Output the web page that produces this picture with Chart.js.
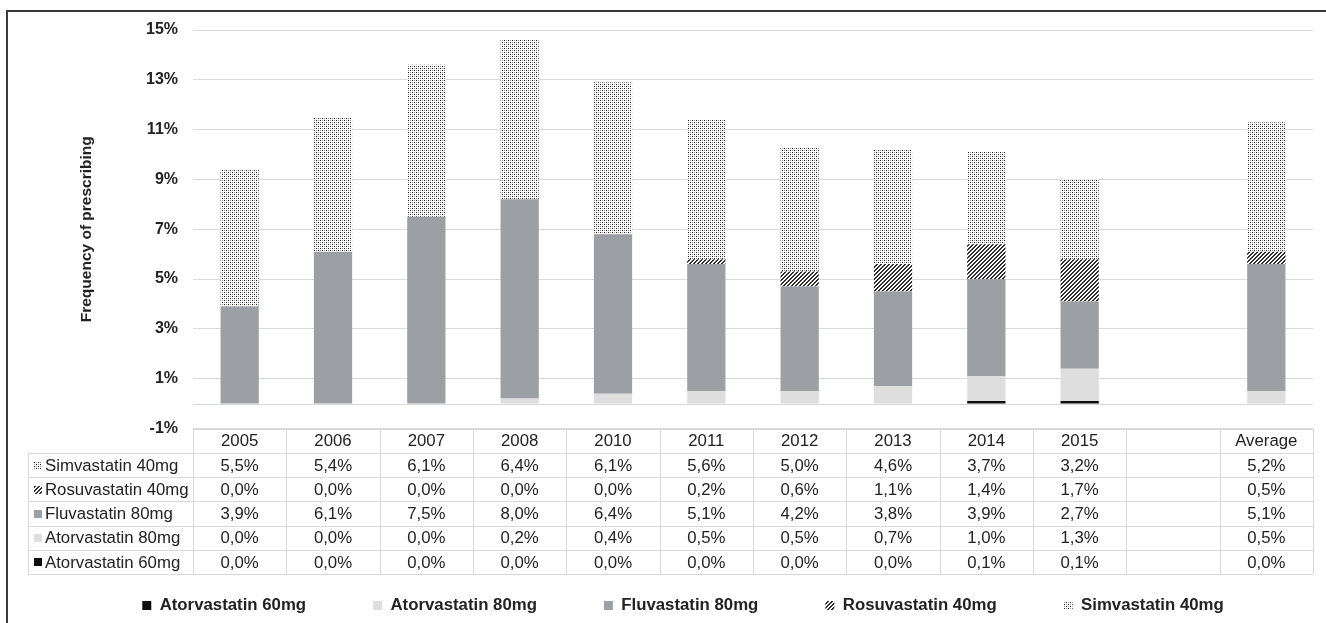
<!DOCTYPE html>
<html>
<head>
<meta charset="utf-8">
<script src="https://cdn.jsdelivr.net/npm/chart.js@4.4.1/dist/chart.umd.min.js"></script>
<style>
  html, body { margin: 0; padding: 0; background: #fff; }
  #wrap { position: relative; width: 1326px; height: 623px; overflow: hidden; }
  #wrap canvas { position: absolute; left: 0; top: 0; }
  #frame { position: absolute; left: 6px; top: 10px; width: 1400px; height: 700px;
           border-left: 2px solid #3a3a3a; border-top: 2px solid #3a3a3a; pointer-events: none; }
</style>
</head>
<body>
<div id="wrap">
  <canvas id="chart" width="1326" height="623"></canvas>
  <div id="frame"></div>
</div>
<script>
// ---- data ----
const categories = ['2005', '2006', '2007', '2008', '2010', '2011', '2012', '2013', '2014', '2015', '', 'Average'];
const atorvastatin60 = [0.0, 0.0, 0.0, 0.0, 0.0, 0.0, 0.0, 0.0, 0.1, 0.1, null, 0.0];
const atorvastatin80 = [0.0, 0.0, 0.0, 0.2, 0.4, 0.5, 0.5, 0.7, 1.0, 1.3, null, 0.5];
const fluvastatin80  = [3.9, 6.1, 7.5, 8.0, 6.4, 5.1, 4.2, 3.8, 3.9, 2.7, null, 5.1];
const rosuvastatin40 = [0.0, 0.0, 0.0, 0.0, 0.0, 0.2, 0.6, 1.1, 1.4, 1.7, null, 0.5];
const simvastatin40  = [5.5, 5.4, 6.1, 6.4, 6.1, 5.6, 5.0, 4.6, 3.7, 3.2, null, 5.2];
const seriesNames = ['Atorvastatin 60mg', 'Atorvastatin 80mg', 'Fluvastatin 80mg', 'Rosuvastatin 40mg', 'Simvastatin 40mg'];
const yMin = -1, yMax = 15, yStep = 2;
const yTitle = 'Frequency of prescribing';

// ---- styling ----
const FONT = '"Liberation Sans", Arial, Helvetica, sans-serif';
const TEXT = '#222222';
const GRID = '#d9d9d9';
const ROW_H = 24.25;       // data table row height
const LABEL_LEFT = 28;     // left edge of the series-name column

function makePattern(size, paint) {
  const c = document.createElement('canvas');
  c.width = c.height = size;
  const g = c.getContext('2d');
  g.fillStyle = '#ffffff';
  g.fillRect(0, 0, size, size);
  paint(g);
  return g.createPattern(c, 'repeat');
}
// dot screen
const dotted = makePattern(4, g => {
  g.fillStyle = '#1e1e1e';
  g.fillRect(0, 0, 1, 1); g.fillRect(2, 2, 1, 1);
  g.fillStyle = '#909090';
  g.fillRect(2, 0, 1, 1); g.fillRect(0, 2, 1, 1);
});
// wide upward diagonal hatch
const hatched = makePattern(4, g => {
  g.fillStyle = '#2e2e2e';
  for (let y = 0; y < 4; y++) for (let x = 0; x < 4; x++) if ((x + y) % 4 < 2) g.fillRect(x, y, 1, 1);
});

const fills = ['#0d0d0d', '#dedede', '#9c9fa3', hatched, dotted];
const seriesData = [atorvastatin60, atorvastatin80, fluvastatin80, rosuvastatin40, simvastatin40];

const datasets = seriesNames.map((name, i) => ({
  label: name,
  data: seriesData[i],
  backgroundColor: fills[i],
  borderWidth: 0,
  stack: 'statins',
  categoryPercentage: 1.0,
  barPercentage: 0.41
}));

const fmt = v => (v === null || v === undefined) ? '' : v.toFixed(1).replace('.', ',') + '%';

// zero baseline of the value axis
const zeroLine = {
  id: 'zeroLine',
  beforeDatasetsDraw(chart) {
    const { ctx, chartArea, scales: { y } } = chart;
    const py = Math.round(y.getPixelForValue(0)) + 0.5;
    ctx.save();
    ctx.strokeStyle = GRID;
    ctx.lineWidth = 1;
    ctx.beginPath();
    ctx.moveTo(chartArea.left, py);
    ctx.lineTo(chartArea.right, py);
    ctx.stroke();
    ctx.restore();
  }
};

// data table under the plot, aligned with the category slots
const dataTable = {
  id: 'dataTable',
  afterDraw(chart) {
    const { ctx, chartArea, scales: { x } } = chart;
    const left = chartArea.left, right = chartArea.right;
    const top = chartArea.bottom;
    const n = categories.length;
    const colW = (right - left) / n;
    const order = [4, 3, 2, 1, 0];
    const bottom = top + ROW_H * (order.length + 1);
    const al = v => Math.round(v) + 0.5;

    ctx.save();
    ctx.strokeStyle = GRID;
    ctx.lineWidth = 1;
    ctx.beginPath();
    ctx.moveTo(left, al(top)); ctx.lineTo(right, al(top));
    for (let r = 1; r <= order.length + 1; r++) {
      const yy = al(top + r * ROW_H);
      ctx.moveTo(LABEL_LEFT, yy); ctx.lineTo(right, yy);
    }
    for (let c = 0; c <= n; c++) {
      const xx = al(left + c * colW);
      ctx.moveTo(xx, top); ctx.lineTo(xx, bottom);
    }
    ctx.moveTo(al(LABEL_LEFT), top + ROW_H); ctx.lineTo(al(LABEL_LEFT), bottom);
    ctx.stroke();

    ctx.font = '16.8px ' + FONT;
    ctx.fillStyle = TEXT;
    ctx.textBaseline = 'middle';
    ctx.textAlign = 'center';
    categories.forEach((cat, i) => {
      ctx.fillText(cat, x.getPixelForValue(i), top + ROW_H / 2 + 1);
    });

    order.forEach((si, r) => {
      const cy = top + (r + 1) * ROW_H + ROW_H / 2 + 1;
      ctx.fillStyle = fills[si];
      ctx.fillRect(LABEL_LEFT + 6, Math.round(cy - 4.5), 8, 8);
      ctx.fillStyle = TEXT;
      ctx.textAlign = 'left';
      ctx.fillText(seriesNames[si], LABEL_LEFT + 17, cy);
      ctx.textAlign = 'center';
      seriesData[si].forEach((v, i) => {
        ctx.fillText(fmt(v), x.getPixelForValue(i), cy);
      });
    });
    ctx.restore();
  }
};

new Chart(document.getElementById('chart'), {
  type: 'bar',
  data: { labels: categories, datasets },
  plugins: [zeroLine, dataTable],
  options: {
    responsive: false,
    animation: false,
    events: [],
    layout: { padding: { left: 53, right: 13, top: 30, bottom: -1 } },
    plugins: {
      tooltip: { enabled: false },
      legend: {
        position: 'bottom',
        labels: {
          boxWidth: 9,
          boxHeight: 9,
          padding: 67,
          color: TEXT,
          font: { family: FONT, size: 16.8, weight: 'bold', lineHeight: 1 }
        }
      }
    },
    scales: {
      x: {
        stacked: true,
        grid: { display: false },
        border: { display: false },
        ticks: { display: false },
        afterFit(scale) { scale.height = 101.7; }
      },
      y: {
        stacked: true,
        min: yMin,
        max: yMax,
        grid: { color: GRID, lineWidth: 1, drawTicks: false },
        border: { display: false },
        ticks: {
          stepSize: yStep,
          padding: 15,
          color: TEXT,
          font: { family: FONT, size: 16, weight: 'bold' },
          callback: v => v + '%'
        },
        title: {
          display: true,
          text: yTitle,
          color: TEXT,
          font: { family: FONT, size: 15.5, weight: 'bold' },
          padding: { top: 24, bottom: 0 }
        },
        afterFit(scale) { scale.width = 140; }
      }
    }
  }
});
</script>
</body>
</html>
